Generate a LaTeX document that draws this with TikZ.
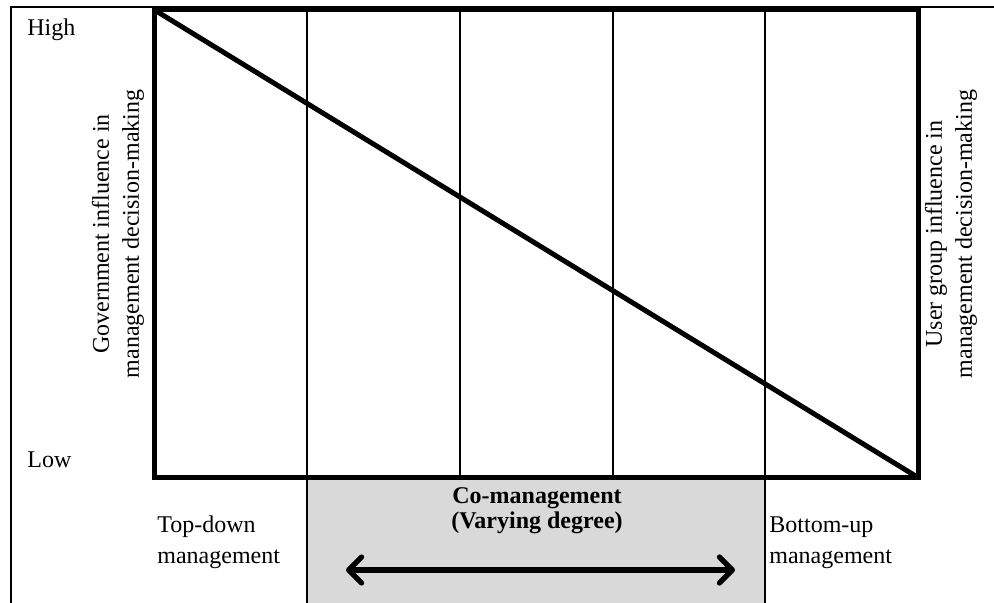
\documentclass[tikz,border=0pt]{standalone}
\usepackage{fontspec}
\setmainfont{Liberation Serif}
\usetikzlibrary{arrows.meta}
\definecolor{comgrey}{RGB}{217,217,217}
\tikzset{
  thinline/.style={line width=1pt},
  thickline/.style={line width=2.5pt},
  lbl/.style={inner sep=0pt, font=\fontsize{12pt}{15.5pt}\selectfont},
  sidelbl/.style={inner sep=0pt, rotate=90, align=center, font=\fontsize{12pt}{15pt}\selectfont},
  boldlbl/.style={inner sep=0pt, align=center, font=\fontsize{12pt}{12.5pt}\selectfont\bfseries},
  dblarrow/.style={line width=2.6pt, {Straight Barb[length=6.5pt,width=13pt,line cap=round,line join=round]}-{Straight Barb[length=6.5pt,width=13pt,line cap=round,line join=round]}}
}
\begin{document}
\begin{tikzpicture}[x=0.5pt,y=-0.5pt]
\useasboundingbox (0,0) rectangle (994,603);
% grey co-management band
\fill[comgrey] (306,478) rectangle (765,603);
% outer frame (cropped)
\draw[thinline] (994,7) -- (11,7) -- (11,603);
% vertical dividers
\coordinate (d1t) at (306.5,10); \coordinate (d1b) at (306.5,603);
\coordinate (d2t) at (459.5,10); \coordinate (d2b) at (459.5,477.5);
\coordinate (d3t) at (612.5,10); \coordinate (d3b) at (612.5,477.5);
\coordinate (d4t) at (765,10);   \coordinate (d4b) at (765,603);
\draw[thinline] (d1t) -- (d1b);
\draw[thinline] (d2t) -- (d2b);
\draw[thinline] (d3t) -- (d3b);
\draw[thinline] (d4t) -- (d4b);
% thick frame and diagonal
\coordinate (tl) at (154.5,10);
\coordinate (br) at (918,477.5);
\draw[thickline] (tl) rectangle (br);
\draw[thickline] (tl) -- (br);
% labels
\node[lbl, anchor=base west] (high) at (27,36) {High};
\node[lbl, anchor=base west] (low) at (27,467) {Low};
\node[sidelbl] (gov) at (118,234) {Government influence in\\management decision-making};
\node[sidelbl] (user) at (951,234) {User group influence in\\management decision-making};
\node[lbl, anchor=base west, align=left] (topdown) at (157,563) {Top-down\\management};
\node[lbl, anchor=base west, align=left] (bottomup) at (769,563) {Bottom-up\\management};
\node[boldlbl, anchor=base] (comgmt) at (537,528) {Co-management\\(Varying degree)};
% double arrow
\coordinate (al) at (346,570);
\coordinate (ar) at (735,570);
\draw[dblarrow] (al) -- (ar);
\end{tikzpicture}
\end{document}
